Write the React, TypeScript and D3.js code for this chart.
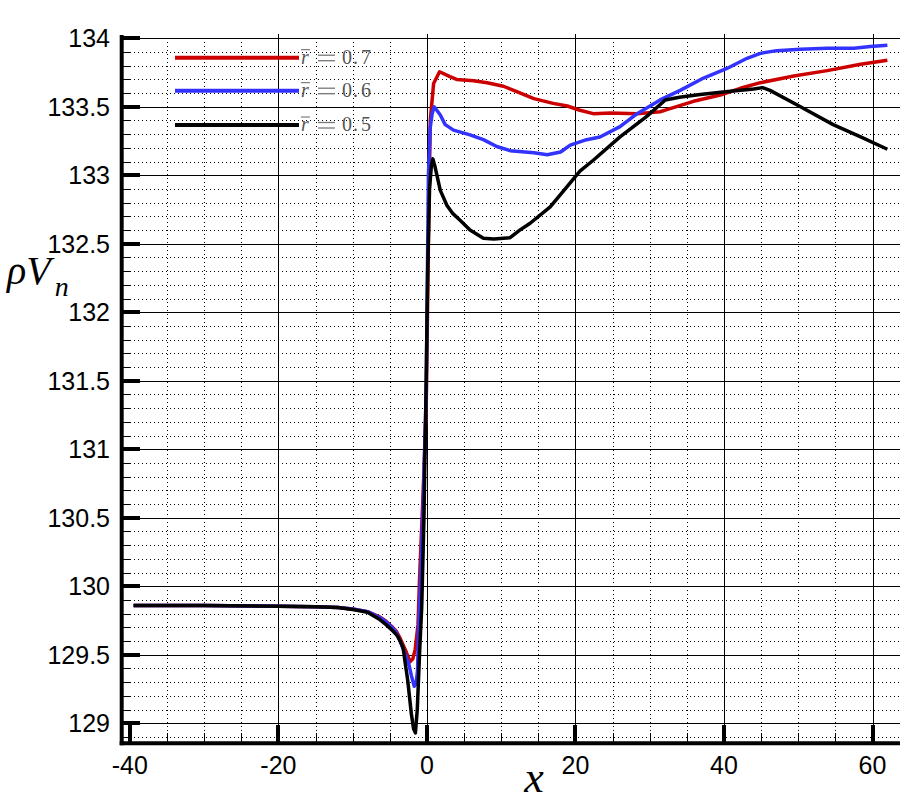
import React from "react";
import * as d3 from "d3";

const redX = [-39.5, -30, -20, -15, -12, -10, -8, -6.3, -5.5, -4.7, -4.1, -3.6, -2.9, -2.5, -2.25, -1.9, -1.58, -1.2, -1.0, -0.5, -0.1, 0.2, 0.45, 0.9, 1.7, 3.1, 4.0, 6.3, 8.1, 10.3, 12.1, 14.4, 17.0, 18.9, 20.6, 22.4, 24.7, 28.3, 31.4, 32.3, 35.9, 39.5, 42.2, 44.9, 49.4, 53.9, 58.4, 62.0];
const redY = [129.86, 129.86, 129.855, 129.85, 129.845, 129.835, 129.815, 129.775, 129.745, 129.705, 129.67, 129.62, 129.535, 129.48, 129.45, 129.47, 129.54, 129.72, 130.05, 130.7, 131.3, 132.5, 133.4, 133.67, 133.756, 133.72, 133.70, 133.69, 133.676, 133.65, 133.61, 133.56, 133.525, 133.506, 133.475, 133.45, 133.455, 133.45, 133.464, 133.48, 133.54, 133.586, 133.635, 133.676, 133.725, 133.764, 133.81, 133.84];

const blueX = [-39.5, -30, -20, -15, -12, -10, -8, -6.3, -5.5, -4.7, -4.1, -3.6, -2.9, -2.47, -2.1, -1.71, -1.45, -1.26, -1.13, -0.9, -0.5, -0.1, 0.2, 0.45, 0.7, 0.98, 1.8, 2.46, 3.58, 5.8, 7.6, 9.4, 11.2, 14.4, 16.2, 18.0, 19.3, 21.5, 23.3, 26.0, 28.3, 31.4, 34.1, 37.25, 40.4, 43.1, 44.9, 47.1, 50.3, 53.9, 57.5, 59.7, 62.0];
const blueY = [129.86, 129.86, 129.855, 129.85, 129.845, 129.835, 129.815, 129.77, 129.74, 129.70, 129.66, 129.60, 129.50, 129.44, 129.35, 129.27, 129.29, 129.39, 129.68, 129.97, 130.6, 131.4, 133.0, 133.35, 133.45, 133.50, 133.44, 133.37, 133.33, 133.295, 133.26, 133.21, 133.18, 133.165, 133.15, 133.17, 133.22, 133.26, 133.28, 133.355, 133.45, 133.55, 133.62, 133.71, 133.78, 133.854, 133.89, 133.91, 133.92, 133.927, 133.927, 133.94, 133.95];

const blackX = [-39.5, -30, -20, -15, -12, -10, -8, -6.3, -5.5, -4.7, -4.0, -3.6, -3.2, -2.9, -2.6, -2.1, -1.8, -1.55, -1.3, -1.0, -0.7, -0.4, -0.1, 0.1, 0.35, 0.6, 0.8, 1.1, 1.35, 1.8, 2.7, 3.5, 4.5, 5.8, 7.6, 9.0, 11.2, 12.5, 13.9, 16.6, 18.9, 20.6, 22.4, 26.0, 29.6, 32.1, 34.0, 36.8, 40.2, 44.0, 45.2, 46.2, 50.3, 54.7, 58.4, 62.0];
const blackY = [129.86, 129.86, 129.855, 129.85, 129.845, 129.83, 129.81, 129.755, 129.72, 129.68, 129.64, 129.6, 129.55, 129.43, 129.32, 129.07, 128.96, 128.93, 129.1, 129.5, 129.85, 130.5, 131.5, 132.3, 132.9, 133.07, 133.12, 133.06, 133.0, 132.89, 132.78, 132.72, 132.67, 132.6, 132.54, 132.535, 132.545, 132.6, 132.65, 132.77, 132.92, 133.03, 133.11, 133.28, 133.43, 133.55, 133.57, 133.59, 133.61, 133.63, 133.64, 133.62, 133.5, 133.37, 133.28, 133.19];

const seriesNames = ["0.7", "0.6", "0.5"];
const seriesColors = ["#cc0000", "#3333ff", "#000000"];

const xMajorTicks = [-40, -20, 0, 20, 40, 60];
const xTickLabels = ["-40", "-20", "0", "20", "40", "60"];
const yMajorTicks = [129, 129.5, 130, 130.5, 131, 131.5, 132, 132.5, 133, 133.5, 134];
const yTickLabels = ["129", "129.5", "130", "130.5", "131", "131.5", "132", "132.5", "133", "133.5", "134"];

export default function App() {
  const left = 121.7, right = 900, top = 38.3, bottom = 743.3;
  const x = d3.scaleLinear().domain([-41.1, 63.7]).range([left, right]);
  const y = d3.scaleLinear().domain([128.854, 134]).range([bottom, top]);
  const px = (v: number) => Math.round(x(v)) + 0.5;
  const py = (v: number) => Math.round(y(v)) + 0.5;

  const xMinor = d3.range(-40, 64, 5).filter((v) => v % 20 !== 0);
  const yMinor = d3.range(128.9, 134.001, 0.1).map((v) => Math.round(v * 10) / 10).filter((v) => Math.abs(v * 2 - Math.round(v * 2)) > 1e-6);

  const series = [
    { xs: redX, ys: redY },
    { xs: blueX, ys: blueY },
    { xs: blackX, ys: blackY },
  ];
  const line = d3.line<[number, number]>().x((d) => x(d[0])).y((d) => y(d[1]));

  const legendY = [57.7, 90.7, 125];

  return (
    <svg width={919} height={804} style={{ position: "absolute", left: 0, top: 0, background: "#fff" }}>
      <rect x={0} y={0} width={919} height={804} fill="#fff" />
      {/* minor grid */}
      <g shapeRendering="crispEdges">
        {xMinor.map((v) => (
          <line key={"xm" + v} x1={px(v)} x2={px(v)} y1={top} y2={bottom} stroke="#000" strokeWidth={1} strokeDasharray="1,3" />
        ))}
        {yMinor.map((v) => (
          <line key={"ym" + v} x1={left} x2={right} y1={py(v)} y2={py(v)} stroke="#000" strokeWidth={1} strokeDasharray="1,3" />
        ))}
        {/* major grid */}
        {xMajorTicks.filter((v) => v !== -40).map((v) => (
          <line key={"xg" + v} x1={px(v)} x2={px(v)} y1={34} y2={bottom} stroke="#000" strokeWidth={1.3} />
        ))}
        {yMajorTicks.map((v) => (
          <line key={"yg" + v} x1={left} x2={right} y1={py(v)} y2={py(v)} stroke="#000" strokeWidth={1.3} />
        ))}
        {/* ticks */}
        {xMinor.map((v) => (
          <line key={"xt" + v} x1={px(v)} x2={px(v)} y1={bottom} y2={bottom - 10} stroke="#000" strokeWidth={1.3} />
        ))}
        {xMajorTicks.map((v) => (
          <line key={"xT" + v} x1={x(v)} x2={x(v)} y1={bottom} y2={bottom - 18} stroke="#000" strokeWidth={4} />
        ))}
        {yMinor.map((v) => (
          <line key={"yt" + v} x1={left} x2={left + 9} y1={py(v)} y2={py(v)} stroke="#000" strokeWidth={1.3} />
        ))}
        {yMajorTicks.map((v) => (
          <line key={"yT" + v} x1={left} x2={left + 18} y1={y(v)} y2={y(v)} stroke="#000" strokeWidth={4} />
        ))}
      </g>
      {/* series */}
      {series.map((s, i) => (
        <path
          key={"s" + i}
          d={line(s.xs.map((v, j) => [v, s.ys[j]] as [number, number])) || ""}
          fill="none"
          stroke={seriesColors[i]}
          strokeWidth={3.5}
          strokeLinejoin="round"
        />
      ))}
      {/* axes */}
      <line x1={left} x2={left} y1={35} y2={bottom + 2} stroke="#000" strokeWidth={4} />
      <line x1={left - 2} x2={right} y1={bottom} y2={bottom} stroke="#000" strokeWidth={4} />
      {/* tick labels */}
      {yMajorTicks.map((v, i) => (
        <text key={"yl" + v} x={110} y={y(v)} dy="0.36em" textAnchor="end" fontFamily="Liberation Sans, Arial, sans-serif" fontSize={25} fill="#000">
          {yTickLabels[i]}
        </text>
      ))}
      {xMajorTicks.map((v, i) => (
        <text key={"xl" + v} x={x(v)} y={774} textAnchor="middle" fontFamily="Liberation Sans, Arial, sans-serif" fontSize={25} fill="#000">
          {xTickLabels[i]}
        </text>
      ))}
      {/* axis titles */}
      <text x={7} y={284} fontFamily="Liberation Serif, Times New Roman, serif" fontStyle="italic" fontSize={40} fill="#000">
        ρV
        <tspan fontSize={28} dx={4} dy={12}>n</tspan>
      </text>
      <text x={534} y={792} textAnchor="middle" fontFamily="Liberation Serif, Times New Roman, serif" fontStyle="italic" fontSize={44} fill="#000">
        x
      </text>
      {/* legend */}
      {seriesNames.map((n, i) => (
        <g key={"lg" + i}>
          <line x1={175} x2={299} y1={legendY[i]} y2={legendY[i]} stroke={seriesColors[i]} strokeWidth={4} />
          <line x1={301} x2={310} y1={legendY[i] - 8} y2={legendY[i] - 8} stroke="#666" strokeWidth={1} />
          <line x1={318} x2={335} y1={legendY[i] - 2.5} y2={legendY[i] - 2.5} stroke="#777" strokeWidth={1.3} />
          <line x1={318} x2={335} y1={legendY[i] + 3} y2={legendY[i] + 3} stroke="#777" strokeWidth={1.3} />
          <text y={legendY[i] + 6} fontFamily="Liberation Serif, Times New Roman, serif" fontSize={20} fill="#555">
            <tspan x={301} fontStyle="italic">r</tspan>
            <tspan x={342}>{n.charAt(0)}</tspan>
            <tspan x={353}>.</tspan>
            <tspan x={361}>{n.slice(2)}</tspan>
          </text>
        </g>
      ))}
    </svg>
  );
}
